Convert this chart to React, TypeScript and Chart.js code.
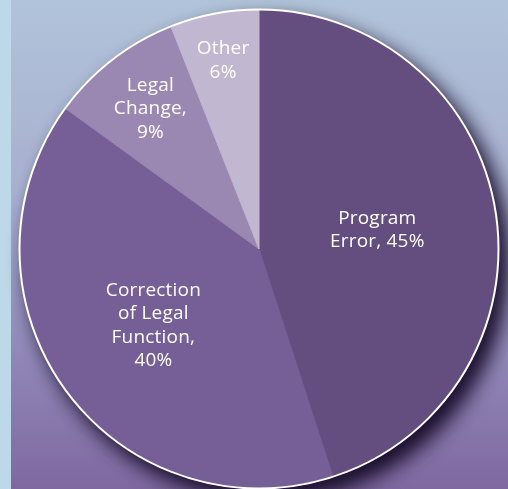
import React, { useEffect, useRef } from "react";
import { Chart, registerables } from "chart.js";

Chart.register(...registerables);

const categories = ["Program Error", "Correction of Legal Function", "Legal Change", "Other"];
const values = [45, 40, 9, 6];
const labelLines = [
  ["Program", "Error, 45%"],
  ["Correction", "of Legal", "Function,", "40%"],
  ["Legal", "Change,", "9%"],
  ["Other", "6%"],
];
const sliceColors = ["#644e7f", "#765e97", "#9a88b3", "#c2b7d1"];
const labelRadius = [0.5, 0.545, 0.74, 0.8];

const shadowPlugin = {
  id: "pieShadow",
  beforeDatasetsDraw(chart: any) {
    const meta = chart.getDatasetMeta(0);
    const arc = meta.data[0];
    if (!arc) return;
    const { ctx } = chart;
    for (let k = 0; k < 2; k++) {
      ctx.save();
      ctx.shadowColor = "rgba(22, 12, 40, 0.85)";
      ctx.shadowBlur = 22;
      ctx.shadowOffsetX = 9;
      ctx.shadowOffsetY = 11;
      ctx.beginPath();
      ctx.arc(arc.x, arc.y, arc.outerRadius - 3, 0, Math.PI * 2);
      ctx.fillStyle = "#5a4673";
      ctx.fill();
      ctx.restore();
    }
  },
  afterDatasetsDraw(chart: any) {
    const meta = chart.getDatasetMeta(0);
    const { ctx } = chart;
    const first = meta.data[0];
    if (!first) return;
    ctx.save();
    ctx.beginPath();
    ctx.arc(first.x, first.y, first.outerRadius, 0, Math.PI * 2);
    ctx.strokeStyle = "#ffffff";
    ctx.lineWidth = 2;
    ctx.stroke();
    ctx.font = '19px "Open Sans", sans-serif';
    (ctx as any).letterSpacing = "0.2px";
    ctx.fillStyle = "#ffffff";
    ctx.textAlign = "center";
    ctx.textBaseline = "middle";
    const lh = 23.5;
    meta.data.forEach((a: any, i: number) => {
      const mid = (a.startAngle + a.endAngle) / 2;
      const r = a.outerRadius * labelRadius[i];
      const cx = a.x + Math.cos(mid) * r;
      const cy = a.y + Math.sin(mid) * r;
      const lines = labelLines[i];
      const y0 = cy - ((lines.length - 1) * lh) / 2;
      lines.forEach((t, j) => ctx.fillText(t, cx, y0 + j * lh));
    });
    ctx.restore();
  },
};

export default function App() {
  const ref = useRef<HTMLCanvasElement | null>(null);
  useEffect(() => {
    if (!ref.current) return;
    const chart = new Chart(ref.current, {
      type: "pie",
      data: {
        labels: categories,
        datasets: [
          {
            data: values,
            backgroundColor: sliceColors,
            borderColor: sliceColors,
            borderWidth: 1,
            hoverOffset: 0,
          },
        ],
      },
      options: {
        responsive: true,
        maintainAspectRatio: false,
        animation: false,
        layout: { padding: { left: 19, right: 9, top: 9, bottom: 0 } },
        plugins: {
          legend: { display: false },
          tooltip: { enabled: false },
        },
        events: [],
      },
      plugins: [shadowPlugin],
    });
    return () => chart.destroy();
  }, []);

  return (
    <div
      style={{
        position: "absolute",
        left: 0,
        top: 0,
        width: 508,
        height: 489,
        background: "#bdd9e9",
        overflow: "hidden",
      }}
    >
      <div
        style={{
          position: "absolute",
          left: 11,
          top: 0,
          width: 497,
          height: 489,
          background: "linear-gradient(180deg, #b1c3da 0%, #a7afcf 40%, #9590bd 65%, #7f68a0 100%)",
        }}
      />
      <div style={{ position: "absolute", left: 0, top: 0, width: 508, height: 489 }}>
        <canvas ref={ref} />
      </div>
    </div>
  );
}
